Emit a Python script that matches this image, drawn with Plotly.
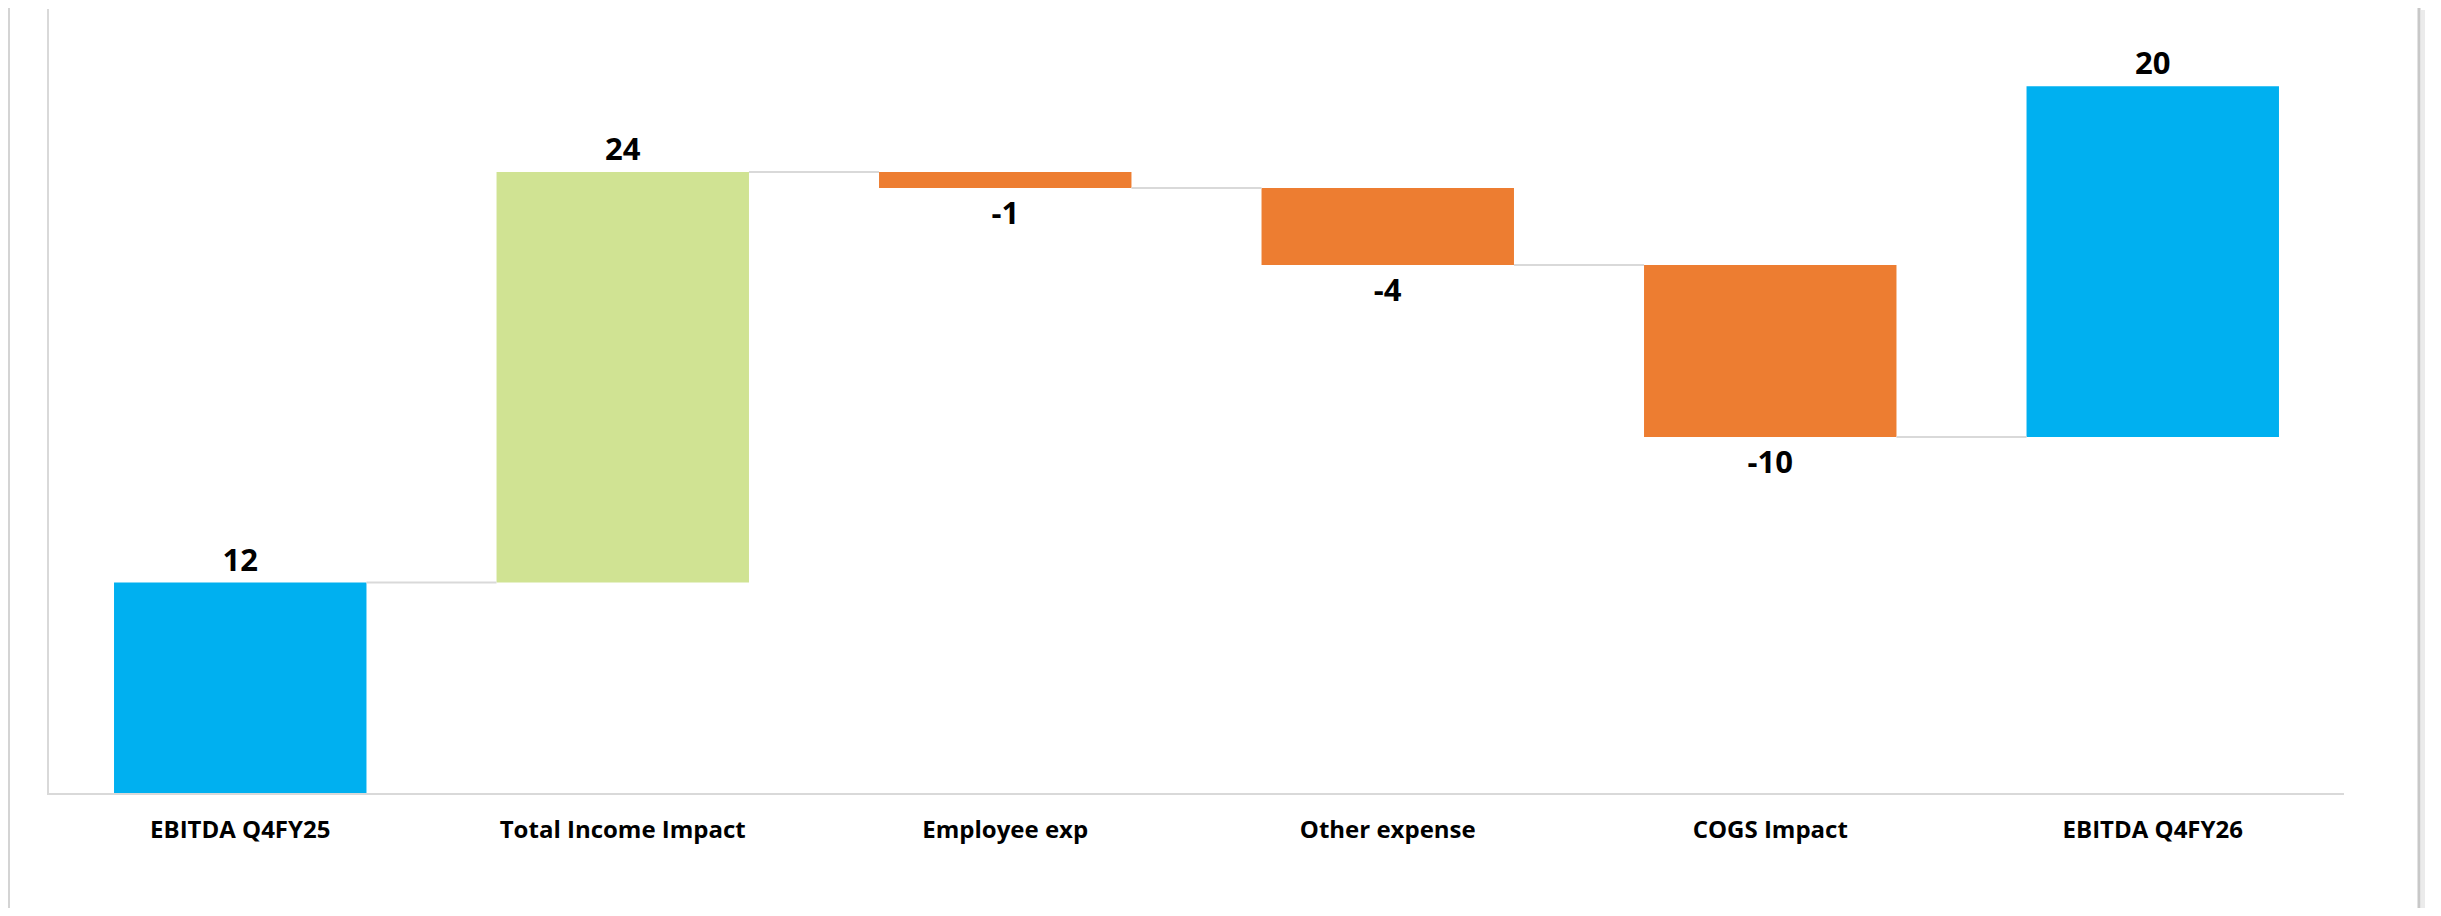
import plotly.graph_objects as go

# ---- data ----
categories = ["EBITDA Q4FY25", "Total Income Impact", "Employee exp",
              "Other expense", "COGS Impact", "EBITDA Q4FY26"]
values = [12.0, 23.4, -0.9, -4.4, -9.8, 20.0]
labels = ["12", "24", "-1", "-4", "-10", "20"]

# ---- styles ----
BLUE, GREEN, ORANGE = "#00B0F0", "#D0E393", "#ED7D31"
bar_colors = [BLUE, GREEN, ORANGE, ORANGE, ORANGE, BLUE]
FONT = "Open Sans, Noto Sans, DejaVu Sans, sans-serif"

# page has an 8px body margin; figure placed at (8,8)
OFF = 8
W, H = 2425, 900
L, T = 49 - OFF, 9 - OFF
PW, PH = 2295, 784
R = W - L - PW
B = H - T - PH
BAR_FRAC = 0.66

# running totals -> bases
bases, cum, running = [], [], 0.0
for v in values:
    bases.append(running)
    running += v
    cum.append(running)

fig = go.Figure()
fig.add_trace(go.Bar(
    x=categories, y=values, base=bases,
    marker=dict(color=bar_colors, line=dict(width=0)),
    text=labels, textposition="outside",
    textfont=dict(family=FONT, size=31, color="#000000", weight="bold"),
    cliponaxis=False, hoverinfo="skip", showlegend=False,
))

shapes = []
half = BAR_FRAC / 2
for i in range(len(values) - 1):
    shapes.append(dict(type="line", xref="x", yref="y",
                       x0=i + half, x1=i + 1 - half, y0=cum[i], y1=cum[i],
                       line=dict(color="#D9D9D9", width=2)))

# chart-area frame lines (page pixel -> paper coords)
def px_x(p): return (p - OFF - L) / PW
def px_y(p): return (T + PH - (p - OFF)) / PH
shapes.append(dict(type="line", xref="paper", yref="paper",
                   x0=px_x(9), x1=px_x(9), y0=px_y(8), y1=px_y(916),
                   line=dict(color="#D4D4D4", width=2)))
shapes.append(dict(type="line", xref="paper", yref="paper",
                   x0=px_x(2419), x1=px_x(2419), y0=px_y(8), y1=px_y(916),
                   line=dict(color="#C8C8C8", width=3)))
shapes.append(dict(type="line", xref="paper", yref="paper",
                   x0=px_x(2423), x1=px_x(2423), y0=px_y(10), y1=px_y(916),
                   line=dict(color="#EBEBEB", width=4)))

fig.update_layout(
    width=W, height=H,
    margin=dict(l=L, r=R, t=T, b=B, autoexpand=False),
    paper_bgcolor="white", plot_bgcolor="white",
    bargap=1 - BAR_FRAC,
    shapes=shapes,
    font=dict(family=FONT),
    xaxis=dict(type="category", range=[-0.5, len(categories) - 0.5],
               showline=True, linecolor="#D9D9D9", linewidth=2,
               showgrid=False, zeroline=False, ticks="",
               tickfont=dict(family=FONT, size=24, color="#000000", weight="bold"),
               ticklabelstandoff=14, automargin=False),
    yaxis=dict(range=[0, 44.7], showline=True, linecolor="#D9D9D9", linewidth=2,
               showgrid=False, zeroline=False, showticklabels=False, ticks="",
               automargin=False),
)

fig.write_html("out.html")
